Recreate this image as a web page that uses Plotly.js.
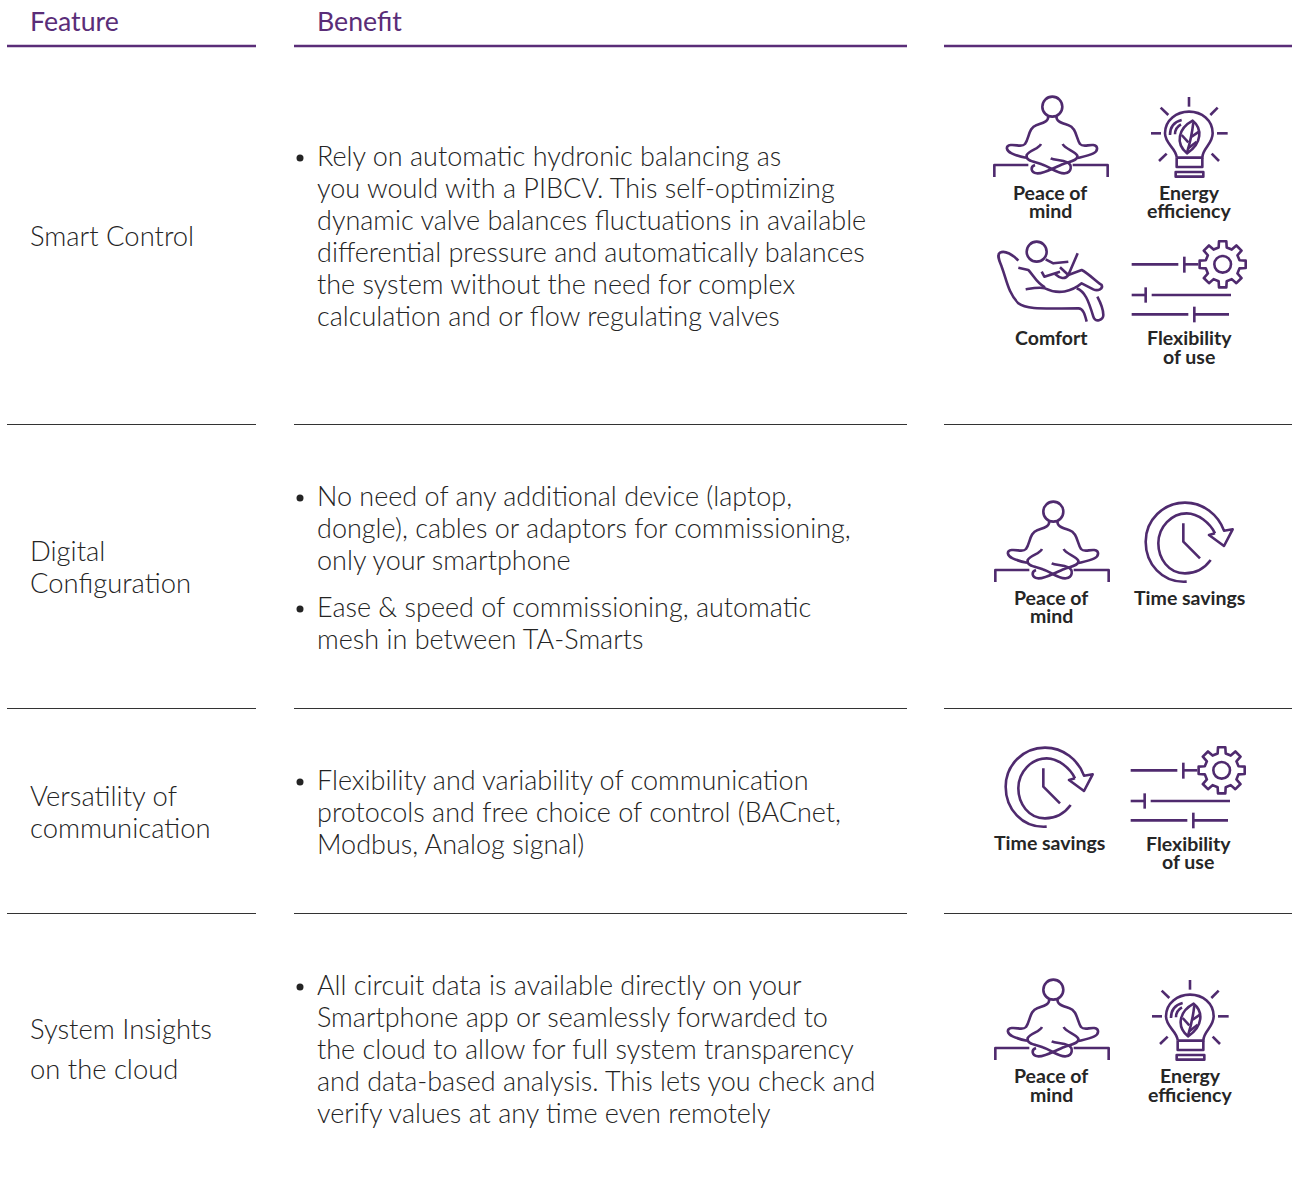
<!DOCTYPE html>
<html><head><meta charset="utf-8">
<script src="https://cdn.plot.ly/plotly-3.0.1.min.js"></script>
<style>html,body{margin:0;padding:0;background:#fff}#c{width:1292px;height:1181px}
.shapelayer path{stroke-linejoin:round}</style></head><body><div id="c"></div>
<script>
const PURPLE='#4f2a6e', HEADER='#5a2d78', INK='#242424', LABEL='#262626';
const FONT='Lato, "Open Sans", sans-serif';

const headerTexts=['Feature','Benefit'];
const headerX=[28.5,316];
const columnsX=[[7,256],[294,907],[944,1292]];
const rowRulesY=[424,708,913];

const featureLines=[['Smart Control'],['Digital','Configuration'],['Versatility of','communication'],['System Insights','on the cloud']];
const featureY=[[236],[551,583],[796,828],[1029,1069]];

const benefitLines=[
 'Rely on automatic hydronic balancing as','you would with a PIBCV. This self-optimizing','dynamic valve balances fluctuations in available','differential pressure and automatically balances','the system without the need for complex','calculation and or flow regulating valves',
 'No need of any additional device (laptop,','dongle), cables or adaptors for commissioning,','only your smartphone',
 'Ease & speed of commissioning, automatic','mesh in between TA-Smarts',
 'Flexibility and variability of communication','protocols and free choice of control (BACnet,','Modbus, Analog signal)',
 'All circuit data is available directly on your','Smartphone app or seamlessly forwarded to','the cloud to allow for full system transparency','and data-based analysis. This lets you check and','verify values at any time even remotely'];
const benefitY=[156,188,220,252,284,316,496,528,560,607,639,780,812,844,985,1017,1049,1081,1113];
const bulletY=[158,498,609,782,987];

// [text, centre x, centre y]
const iconLabels=[
 ['Peace of',1050,193],['mind',1050,211],['Energy',1189,193],['efficiency',1189,211],['Comfort',1051,338],['Flexibility',1189,338],['of use',1189,357],
 ['Peace of',1051,598],['mind',1051,616],['Time savings',1189.5,598],
 ['Time savings',1049.5,843],['Flexibility',1188,844],['of use',1188,862],
 ['Peace of',1051,1076],['mind',1051,1095],['Energy',1190,1076],['efficiency',1190,1095]];

// icon outlines, in 3x local units
const circle=(cx,cy,r)=>{const k=0.5523*r;return `M ${cx-r} ${cy} C ${cx-r} ${cy-k} ${cx-k} ${cy-r} ${cx} ${cy-r} C ${cx+k} ${cy-r} ${cx+r} ${cy-k} ${cx+r} ${cy} C ${cx+r} ${cy+k} ${cx+k} ${cy+r} ${cx} ${cy+r} C ${cx-k} ${cy+r} ${cx-r} ${cy+k} ${cx-r} ${cy} Z`;};
const gear=(cx,cy,ro,rr,n)=>{let d='';const st=2*Math.PI/n;for(let i=0;i<n;i++){const a=i*st-Math.PI/2;
  const pts=[[rr,a-st*0.30],[ro,a-st*0.20],[ro,a+st*0.20],[rr,a+st*0.30]];
  pts.forEach((p,j)=>{d+=(i===0&&j===0?'M ':'L ')+(cx+p[0]*Math.cos(p[1])).toFixed(1)+' '+(cy+p[0]*Math.sin(p[1])).toFixed(1)+' ';});}
  return d+'Z';};
const ICONS={
 peace:[circle(217,65,30),
  'M 205 94 C 205 110 190 113 170 120 C 145 128 148 160 135 177 C 125 188 110 178 92 180 C 75 182 78 198 95 205 C 110 212 125 216 138 218',
  'M 229 94 C 229 110 244 113 264 120 C 290 128 288 160 300 177 C 310 188 325 178 340 180 C 355 182 355 198 340 205 C 325 212 305 216 293 219',
  'M 183 177 C 176 192 150 195 140 210 C 135 228 165 230 185 238 C 210 246 235 268 255 265 C 275 262 278 240 262 232 C 245 224 225 226 212 220',
  'M 248 177 C 255 192 285 198 292 212 C 296 226 268 230 250 237 C 225 246 190 268 170 265 C 152 262 150 245 165 240',
  'M 43 276 L 43 240 L 145 240','M 278 240 L 383 240 L 383 276'],
 bulb:['M 192 36 L 192 65','M 107 68 L 130 90','M 278 68 L 256 90','M 78 145 L 108 145','M 276 145 L 308 145','M 102 228 L 125 206','M 282 228 L 260 206',
  'M 155 218 C 155 190 120 178 120 145 C 120 105 155 80 192 80 C 230 80 263 105 263 145 C 263 178 232 190 232 218 L 155 218',
  'M 155 218 L 155 246 L 232 246 L 232 218',
  'M 152 261 L 235 261 L 235 275 L 152 275 Z',
  'M 135 150 C 135 125 150 110 170 105','M 150 148 C 150 135 155 125 168 118',
  'M 203 107 C 232 130 232 175 186 205 C 150 175 160 130 203 107 Z',
  'M 205 112 C 202 140 196 170 186 203','M 170 150 L 190 172','M 222 140 L 200 155','M 215 170 L 190 190'],
 comfort:[circle(155,65,30),
  'M 100 92 C 85 75 60 60 45 68 C 35 75 42 90 50 110 C 65 150 70 190 100 220 C 125 240 180 235 280 235 C 295 235 300 255 305 275',
  'M 100 113 L 130 120 C 145 135 155 160 180 172','M 182 88 L 205 100 L 250 95',
  'M 278 70 L 250 135 L 225 112','M 170 125 L 178 140 L 225 125','M 210 132 C 225 145 240 150 250 135',
  'M 250 135 L 290 120 C 310 130 340 160 350 165 C 355 175 340 185 325 178 L 290 160 C 260 185 220 195 180 175 C 165 170 140 175 122 178',
  'M 275 175 C 300 185 310 210 325 260 C 330 280 355 270 355 255 C 355 240 345 215 337 200'],
 flex:['M 20 103 L 160 103','M 178 80 L 178 128','M 178 103 L 220 103',gear(293,103,70,52,8),circle(293,103,25),
  'M 20 195 L 62 195','M 62 172 L 62 218','M 80 195 L 318 195','M 20 253 L 190 253','M 208 230 L 208 277','M 208 253 L 312 253'],
 time:['M 185 275 C 110 280 62 220 62 155 C 62 90 115 38 180 38 C 235 38 280 75 297 122 L 323 118 L 297 168 L 252 135 L 270 130',
  'M 257 210 C 235 240 205 250 180 250 C 130 250 100 205 100 160 C 100 110 140 70 185 70 C 220 70 255 100 270 130',
  'M 175 100 L 175 155 L 225 205']
};
const iconNames=['peace','bulb','comfort','flex','peace','time','time','flex','peace','bulb'];
const iconOriginX=[980,1125,985,1125,981,1125,985,1124,981,1126];
const iconOriginY=[85,85,230,230,490,490,735,736,968,968];

const scalePath=(d,ox,oy)=>{let i=0;return d.replace(/-?\d+(\.\d+)?/g,m=>{const v=parseFloat(m)/3+(i++%2===0?ox:oy);return v.toFixed(2);});};

const shapes=[];
const rule=(x0,x1,y,w,c)=>shapes.push({type:'line',xref:'x',yref:'y',x0,x1,y0:y,y1:y,line:{color:c,width:w}});
columnsX.forEach(c=>{rule(c[0],c[1],46,2.6,HEADER);rowRulesY.forEach(y=>rule(c[0],c[1],y+.5,1,'#333333'));});
iconNames.forEach((n,k)=>ICONS[n].forEach(d=>shapes.push({type:'path',xref:'x',yref:'y',path:scalePath(d,iconOriginX[k],iconOriginY[k]),line:{color:PURPLE,width:2.6},fillcolor:'rgba(0,0,0,0)'})));

const ann=[];
const addText=(text,x,y,size,color,weight,anchor)=>ann.push({text,x,y:y-0.8,xref:'x',yref:'y',showarrow:false,xanchor:anchor||'left',yanchor:'middle',align:anchor||'left',borderpad:0,font:{family:FONT,size,color,weight:weight||400}});
headerTexts.forEach((t,i)=>addText(t,headerX[i],22,26.7,HEADER,400));
featureLines.forEach((ls,i)=>ls.forEach((t,j)=>addText(t,28.5,featureY[i][j],27.4,INK,300)));
benefitLines.forEach((t,i)=>addText(t.replace('&','&amp;'),316,benefitY[i],27,INK,300));
iconLabels.forEach(l=>addText(l[0],l[1],l[2],19.5,LABEL,700,'center'));

const bullets={type:'scatter',mode:'markers',x:bulletY.map(()=>300),y:bulletY,marker:{size:7,color:INK},hoverinfo:'skip',showlegend:false};
Plotly.newPlot('c',[bullets],{width:1292,height:1181,margin:{l:0,r:0,t:0,b:0},paper_bgcolor:'#fff',plot_bgcolor:'#fff',showlegend:false,
 xaxis:{range:[0,1292],visible:false,fixedrange:true},yaxis:{range:[1181,0],visible:false,fixedrange:true},shapes,annotations:ann},{staticPlot:true,displayModeBar:false});
</script></body></html>
